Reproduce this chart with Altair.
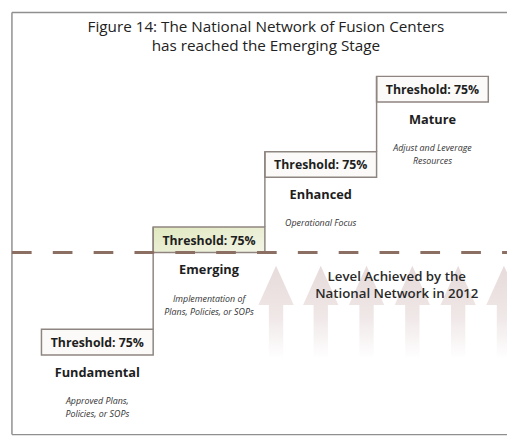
import altair as alt
import pandas as pd

# ---------------- data ----------------
title_lines = ["Figure 14:  The National Network of Fusion Centers",
               "has reached the Emerging Stage"]
stages = ["Fundamental", "Emerging", "Enhanced", "Mature"]
thresholds = [75, 75, 75, 75]
levels = [0.64, 2.0, 3.0, 4.0]
desc_line1 = ["Approved Plans,", "Implementation of", "Operational Focus", "Adjust and Leverage"]
desc_line2 = ["Policies, or SOPs", "Plans, Policies, or SOPs", "", "Resources"]
achieved_stage = "Emerging"
achieved_text = ["Level Achieved by the", "National Network in 2012"]
arrow_pos = [2.1, 2.5, 2.91, 3.32, 3.73, 4.14]

# ---------------- styles ----------------
FONT = "Open Sans"
BORDER = "#8e8580"
TEXT = "#1e1e1e"
BOX = 0.34  # box depth in level units

W, H = 507, 432
xs = alt.Scale(domain=[-0.29956, 4.16740], nice=False, zero=False)
ys = alt.Scale(domain=[-0.7843, 4.8627], nice=False, zero=False)


def X(f):
    return alt.X(f, type="quantitative", scale=xs, axis=None)


def Y(f):
    return alt.Y(f, type="quantitative", scale=ys, axis=None)


rows = []
for i, s in enumerate(stages):
    rows.append(dict(
        idx=i, stage=s, x0=i, x1=i + 1, xc=i + 0.5,
        level=levels[i], bottom=levels[i] - BOX,
        prev=levels[i - 1] if i > 0 else levels[i],
        thr=f"Threshold: {thresholds[i]}%",
        d1=desc_line1[i], d2=desc_line2[i],
        achieved=(s == achieved_stage),
    ))
df = pd.DataFrame(rows)
ach_level = float(df.loc[df.achieved, "bottom"].iloc[0])
df_ach = pd.DataFrame({"y": [ach_level]})
df_arrows = pd.DataFrame({"x": arrow_pos, "y": [ach_level] * len(arrow_pos)})
df_title = pd.DataFrame({"t": title_lines, "line": [0, 1]})
df_ach_txt = pd.DataFrame({"t": achieved_text, "y": [ach_level] * 2, "line": [0, 1]})
df_one = pd.DataFrame({"k": [0]})

# frame
FR = "#8f8f8f"
frame = alt.Chart(df_one).mark_rule(color=FR, strokeWidth=1.5).encode(
    x=alt.value(4), y=alt.value(1), y2=alt.value(430))
frame_top = alt.Chart(df_one).mark_rule(color=FR, strokeWidth=1.5).encode(
    x=alt.value(4), x2=alt.value(507), y=alt.value(1))
frame_bot = alt.Chart(df_one).mark_rule(color=FR, strokeWidth=1.5).encode(
    x=alt.value(4), x2=alt.value(507), y=alt.value(430))

# title
title1 = alt.Chart(df_title).transform_filter("datum.line == 0").mark_text(
    font=FONT, fontSize=15.5, fontWeight=500, color="#222222", align="center",
    baseline="alphabetic"
).encode(x=alt.value(262), y=alt.value(21), text="t:N")
title2 = alt.Chart(df_title).transform_filter("datum.line == 1").mark_text(
    font=FONT, fontSize=15.5, fontWeight=500, color="#222222", align="center",
    baseline="alphabetic"
).encode(x=alt.value(262), y=alt.value(40), text="t:N")

# arrows
arrow_path = "M0,-1L0.37,-0.18L0.15,-0.18L0.15,1L-0.15,1L-0.15,-0.18L-0.37,-0.18Z"
arrows = alt.Chart(df_arrows).mark_point(
    shape=arrow_path, size=9409, filled=True, opacity=1, strokeWidth=0, yOffset=62,
    color=alt.Gradient(gradient="linear", x1=0, x2=0, y1=0, y2=1,
                       stops=[alt.GradientStop(offset=0, color="#e7dbdb"),
                              alt.GradientStop(offset=0.5, color="#efe6e6"),
                              alt.GradientStop(offset=0.97, color="#ffffff")])
).encode(x=X("x"), y=Y("y"))

# boxes
boxes = alt.Chart(df).transform_filter("!datum.achieved").mark_rect(
    stroke=BORDER, strokeWidth=1.5, fill="#fbfaf8"
).encode(x=X("x0"), x2="x1", y=Y("level"), y2="bottom")
box_hi = alt.Chart(df).transform_filter("datum.achieved").mark_rect(
    stroke=BORDER, strokeWidth=1.5,
    color=alt.Gradient(gradient="linear", x1=0, x2=1, y1=0, y2=1,
                       stops=[alt.GradientStop(offset=0, color="#e0e8bf"),
                              alt.GradientStop(offset=1, color="#f3f5e6")])
).encode(x=X("x0"), x2="x1", y=Y("level"), y2="bottom")

connectors = alt.Chart(df).transform_filter("datum.idx > 0").mark_rule(
    color=BORDER, strokeWidth=1.5
).encode(x=X("x0"), y=Y("level"), y2="prev")

dashed = alt.Chart(df_ach).mark_rule(
    color="#8c6f63", strokeWidth=3, strokeDash=[20, 21.5]
).encode(x=alt.value(4), x2=alt.value(507), y=Y("y"))

thr_text = alt.Chart(df).mark_text(
    font=FONT, fontSize=12.5, fontWeight="bold", color=TEXT, dy=18,
    align="center", baseline="alphabetic"
).encode(x=X("xc"), y=Y("level"), text="thr:N")

name_text = alt.Chart(df).mark_text(
    font=FONT, fontSize=13, fontWeight="bold", color=TEXT, dy=48,
    align="center", baseline="alphabetic"
).encode(x=X("xc"), y=Y("level"), text="stage:N")

desc1 = alt.Chart(df).mark_text(
    font=FONT, fontSize=9, fontStyle="italic", color="#333333", dy=76,
    align="center", baseline="alphabetic"
).encode(x=X("xc"), y=Y("level"), text="d1:N")
desc2 = alt.Chart(df).mark_text(
    font=FONT, fontSize=9, fontStyle="italic", color="#333333", dy=89,
    align="center", baseline="alphabetic"
).encode(x=X("xc"), y=Y("level"), text="d2:N")

ach1 = alt.Chart(df_ach_txt).transform_filter("datum.line == 0").mark_text(
    font=FONT, fontSize=13.5, fontWeight=600, color="#2a2a2a", dy=29,
    align="center", baseline="alphabetic"
).encode(x=alt.value(395), y=Y("y"), text="t:N")
ach2 = alt.Chart(df_ach_txt).transform_filter("datum.line == 1").mark_text(
    font=FONT, fontSize=13.5, fontWeight=600, color="#2a2a2a", dy=46,
    align="center", baseline="alphabetic"
).encode(x=alt.value(395), y=Y("y"), text="t:N")

chart = alt.layer(
    frame, frame_top, frame_bot, title1, title2, arrows, boxes, box_hi, connectors,
    dashed, thr_text, name_text, desc1, desc2, ach1, ach2
).properties(
    width=W, height=H, padding=0, autosize=alt.AutoSizeParams(type="none"),
    background="#ffffff"
).configure_view(stroke=None)

chart.save("out.html", embed_options={"renderer": "svg", "actions": False})
